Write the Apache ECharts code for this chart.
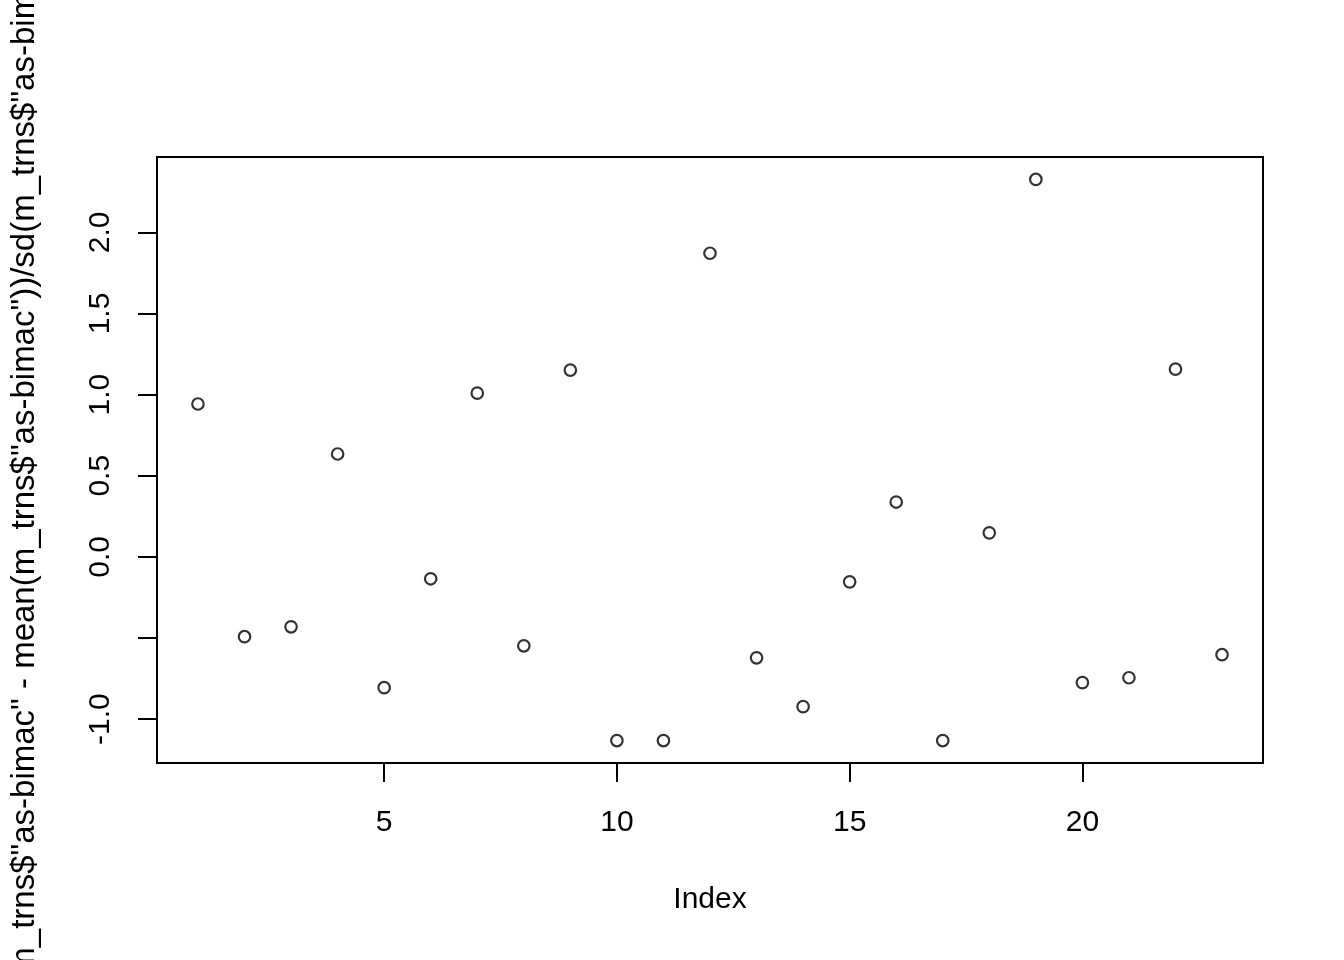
<!DOCTYPE html>
<html>
<head>
<meta charset="utf-8">
<script src="https://cdn.jsdelivr.net/npm/echarts@6/dist/echarts.min.js"></script>
<style>html,body{margin:0;padding:0;background:#fff}#c{width:1344px;height:960px}</style>
</head>
<body>
<div id="c"></div>
<script>
const indexValues = [1,2,3,4,5,6,7,8,9,10,11,12,13,14,15,16,17,18,19,20,21,22,23];
const zValues = [0.942,-0.492,-0.431,0.634,-0.806,-0.135,1.009,-0.548,1.151,-1.132,-1.132,1.871,-0.622,-0.923,-0.154,0.338,-1.132,0.148,2.326,-0.775,-0.745,1.157,-0.603];
const xTicks = [5,10,15,20];
const yTicks = [-1,-0.5,0,0.5,1,1.5,2];
const yTickLabels = [-1,0,0.5,1,1.5,2];
const xTitle = 'Index';
const yTitle = '(m_trns$"as-bimac" - mean(m_trns$"as-bimac"))/sd(m_trns$"as-bimac")';

const FONT = '"Liberation Sans", Arial, sans-serif';
const chart = echarts.init(document.getElementById('c'), null, {renderer:'canvas'});
const pts = indexValues.map((x,i)=>[x, zValues[i]]);
const xr = [Math.min(...indexValues), Math.max(...indexValues)];
const yr = [Math.min(...zValues), Math.max(...zValues)];
const xp = (xr[1]-xr[0])*0.04, yp = (yr[1]-yr[0])*0.04;
chart.setOption({
  animation:false,
  backgroundColor:'#fff',
  grid:{left:157,right:81,top:157,bottom:197,show:true,borderColor:'#000',borderWidth:2,backgroundColor:'transparent',
    containLabel:false, outerBoundsMode:'none'},
  xAxis:{
    type:'value', min:xr[0]-xp, max:xr[1]+xp,
    splitLine:{show:false}, axisLine:{show:false,onZero:false},
    axisTick:{show:true,customValues:xTicks,length:19,lineStyle:{color:'#000',width:2}},
    axisLabel:{customValues:xTicks,color:'#000',fontSize:30,fontFamily:FONT,margin:45,lineHeight:30},
    name:xTitle,nameLocation:'middle',nameGap:122,
    nameTextStyle:{color:'#000',fontSize:30,fontFamily:FONT,lineHeight:30}
  },
  yAxis:{
    type:'value', min:yr[0]-yp, max:yr[1]+yp,
    splitLine:{show:false}, axisLine:{show:false,onZero:false},
    axisTick:{show:true,customValues:yTicks,length:19,lineStyle:{color:'#000',width:2}},
    axisLabel:{customValues:yTickLabels,rotate:90,color:'#000',fontSize:30,fontFamily:FONT,margin:41,lineHeight:30,
      formatter:v=>v.toFixed(1)},
    name:yTitle,nameLocation:'middle',nameGap:116,nameRotate:90,
    nameTextStyle:{color:'#000',fontSize:33,fontFamily:FONT,lineHeight:33}
  },
  series:[{
    type:'scatter', data:pts, symbol:'circle', symbolSize:11.5,
    itemStyle:{color:'transparent',borderColor:'#000',borderWidth:2.2},
    emphasis:{disabled:true}
  }]
});
</script>
</body>
</html>
